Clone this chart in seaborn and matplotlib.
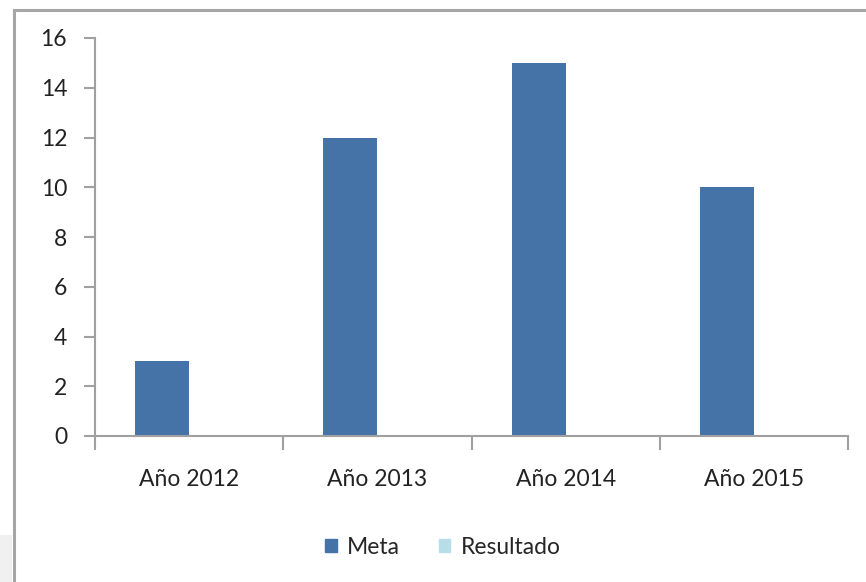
import pandas as pd
import matplotlib.pyplot as plt
import matplotlib.patches as mpatches
import seaborn as sns

# Chart values
years = ['Año 2012', 'Año 2013', 'Año 2014', 'Año 2015']
meta = [3, 12, 15, 10]
resultado = [0, 0, 0, 0]
series = ['Meta', 'Resultado']
colors = ['#4572A7', '#B7DDE8']

df = pd.DataFrame({
    'year': years * 2,
    'value': meta + resultado,
    'serie': ['Meta'] * len(years) + ['Resultado'] * len(years),
})

sns.set_style('white')
plt.rcParams['font.family'] = ['Lato', 'DejaVu Sans']
fs = 16.5

fig = plt.figure(figsize=(8.66, 5.82), dpi=100)
ax = fig.add_axes([95 / 866, 1 - 436 / 582, (848 - 95) / 866, (436 - 38) / 582])

sns.barplot(data=df, x='year', y='value', hue='serie', palette=colors,
            width=0.574, ax=ax, legend=False, saturation=1, linewidth=0)

ax.set_ylim(0, 16)
ax.set_xlim(-0.5, len(years) - 0.5)
ax.set_yticks(range(0, 17, 2))
ax.tick_params(axis='y', length=8, width=1.5, color='#A0A0A0', pad=12,
               labelsize=fs, labelcolor='#222222', left=True)

# boundary ticks as major, labels on minor ticks at category centres
ax.set_xticks([i - 0.5 for i in range(len(years) + 1)])
ax.set_xticklabels([])
ax.set_xticks(range(len(years)), minor=True)
ax.set_xticklabels(years, minor=True)
ax.tick_params(axis='x', which='major', length=10, width=1.5, color='#A0A0A0', bottom=True)
ax.tick_params(axis='x', which='minor', length=0, pad=24, labelsize=fs, labelcolor='#222222')
ax.set_xlabel('')
ax.set_ylabel('')

sns.despine(ax=ax)
for side in ['left', 'bottom']:
    ax.spines[side].set_color('#A0A0A0')
    ax.spines[side].set_linewidth(1.5)

# legend at the bottom
handles = [mpatches.Patch(color=c, label=s) for s, c in zip(series, colors)]
fig.legend(handles=handles, loc='center', bbox_to_anchor=(443 / 866, 1 - 547 / 582),
           ncol=2, frameon=False, fontsize=fs, handlelength=0.5, handleheight=0.5,
           handletextpad=0.45, columnspacing=1.7)

# chart area frame and grey corner
fig.patches.append(mpatches.Rectangle((14 / 866, -0.1), 1.2, 1 - 10 / 582 + 0.1,
                                      transform=fig.transFigure, fill=False,
                                      edgecolor='#A6A6A6', linewidth=2.2))
fig.patches.append(mpatches.Rectangle((0, 0), 12 / 866, 47 / 582,
                                      transform=fig.transFigure, facecolor='#F0F0F0',
                                      edgecolor='none'))

plt.savefig('out.png', dpi=100)
